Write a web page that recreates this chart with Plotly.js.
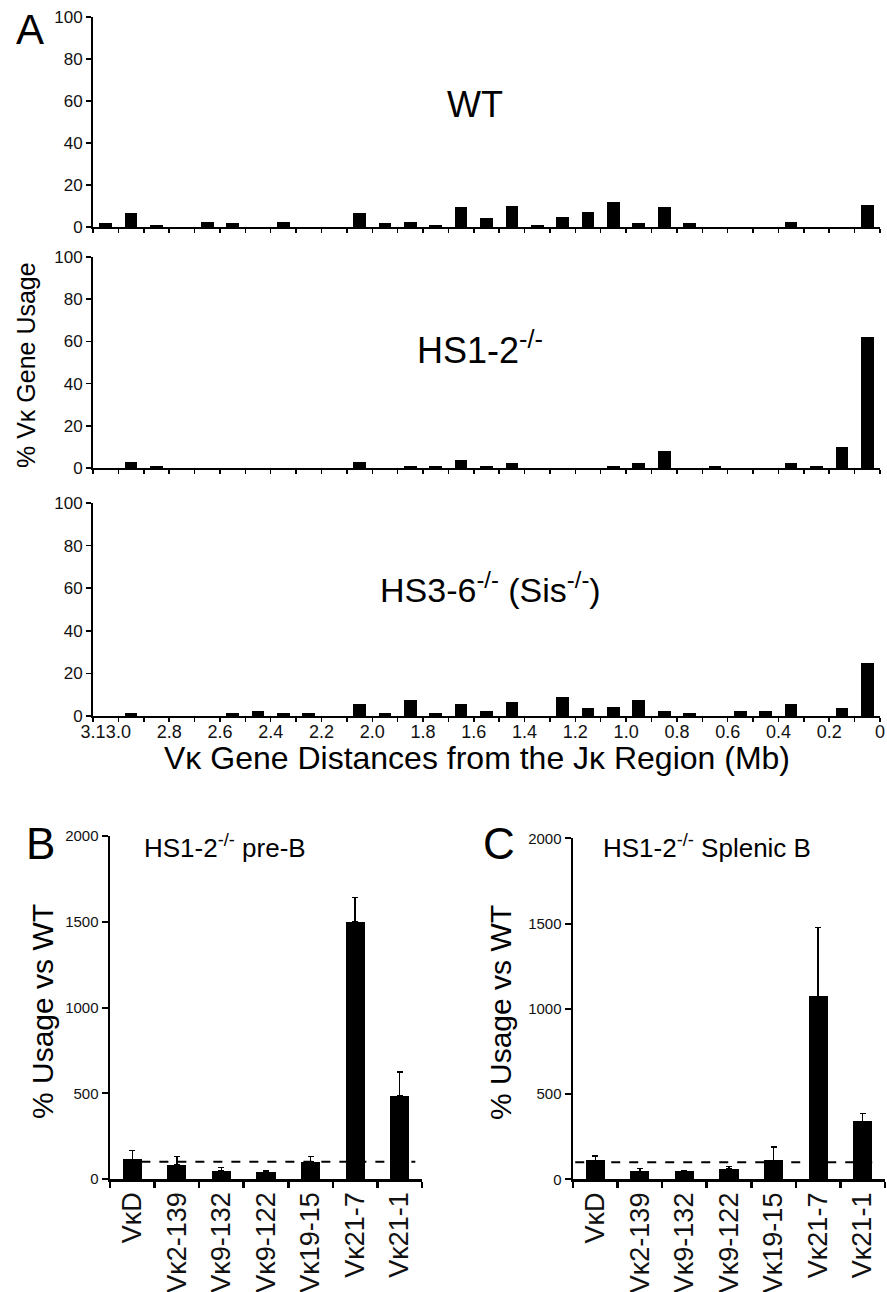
<!DOCTYPE html>
<html>
<head>
<meta charset="utf-8">
<script src="https://cdn.plot.ly/plotly-3.0.1.min.js"></script>
<style>html,body{margin:0;padding:0;background:#fff;}#chart{width:887px;height:1292px;}</style>
</head>
<body>
<div id="chart"></div>
<script>
// ---- Panel A data: Vκ gene usage (%) per 0.1 Mb bin (bin centers, Mb from Jκ) ----
const distanceBins = [3.05, 2.95, 2.85, 2.75, 2.65, 2.55, 2.45, 2.35, 2.25, 2.15,
                      2.05, 1.95, 1.85, 1.75, 1.65, 1.55, 1.45, 1.35, 1.25, 1.15,
                      1.05, 0.95, 0.85, 0.75, 0.65, 0.55, 0.45, 0.35, 0.25, 0.15, 0.05];
const wtUsage   = [1.7, 6.6, 0.8, 0, 2.5, 1.7, 0, 2.5, 0, 0,
                   6.6, 1.7, 2.5, 0.8, 9.3, 4.4, 9.9, 0.8, 5.0, 7.2,
                   12.0, 1.7, 9.3, 1.7, 0, 0, 0, 2.5, 0, 0, 10.7];
const hs12Usage = [0, 2.9, 0.8, 0, 0, 0, 0, 0, 0, 0,
                   2.9, 0, 0.8, 0.8, 3.7, 0.8, 2.4, 0, 0, 0,
                   0.8, 2.4, 8.0, 0, 0.8, 0, 0, 2.4, 0.8, 10.0, 62.0];
const hs36Usage = [0, 1.6, 0, 0, 0, 1.6, 2.4, 1.6, 1.6, 0,
                   5.7, 1.6, 7.7, 1.6, 5.7, 2.4, 6.4, 0, 9.1, 3.6,
                   4.4, 7.7, 2.4, 1.6, 0, 2.4, 2.4, 5.8, 0, 3.6, 25.0];
const distTickVals = [3.1, 3.0, 2.8, 2.6, 2.4, 2.2, 2.0, 1.8, 1.6, 1.4, 1.2, 1.0, 0.8, 0.6, 0.4, 0.2, 0];
const distTickText = ["3.1", "3.0", "2.8", "2.6", "2.4", "2.2", "2.0", "1.8", "1.6", "1.4",
                      "1.2", "1.0", "0.8", "0.6", "0.4", "0.2", "0"];
const distMinorTicks = [2.9, 2.7, 2.5, 2.3, 2.1, 1.9, 1.7, 1.5, 1.3, 1.1, 0.9, 0.7, 0.5, 0.3, 0.1];
const usageTicks = [0, 20, 40, 60, 80, 100];

// ---- Panels B and C: % usage vs WT ----
const geneLabels = ["VκD", "Vκ2-139", "Vκ9-132", "Vκ9-122", "Vκ19-15", "Vκ21-7", "Vκ21-1"];
const preBUsage  = [115, 82, 48, 39, 99, 1500, 484];
const preBError  = [50, 48, 18, 8, 31, 140, 140];
const splenicUsage = [111, 47, 47, 59, 111, 1073, 340];
const splenicError = [27, 15, 3, 15, 78, 403, 47];
const wtReference = 100;
const vsWtTicks = [0, 500, 1000, 1500, 2000];

const FONT = "Liberation Sans, Arial, sans-serif";
const zeros = a => a.map(() => 0);

function barA(y, xa, ya) {
  return {type: 'bar', x: distanceBins, y: y, xaxis: xa, yaxis: ya, width: 0.05,
          marker: {color: '#000', line: {width: 0}}, hoverinfo: 'x+y', showlegend: false};
}
function barBC(y, err, xa, ya) {
  return {type: 'bar', x: geneLabels, y: y, xaxis: xa, yaxis: ya, width: 0.43,
          marker: {color: '#000', line: {width: 0}}, showlegend: false,
          error_y: {type: 'data', symmetric: false, array: err, arrayminus: zeros(err),
                    color: '#000', thickness: 1.5, width: 3}};
}

const data = [
  barA(wtUsage, 'x', 'y'),
  barA(hs12Usage, 'x2', 'y2'),
  barA(hs36Usage, 'x3', 'y3'),
  barBC(preBUsage, preBError, 'x4', 'y4'),
  barBC(splenicUsage, splenicError, 'x5', 'y5')
];

const H = 1292, W = 887;
const py = p => 1 - p / H;
const px = p => p / W;

function xA(anchor, showLabels) {
  return {anchor: anchor, domain: [px(93), px(880)], range: [3.1, 0], autorange: false,
          tickmode: 'array', tickvals: distTickVals, ticktext: distTickText, tickangle: 0,
          showticklabels: showLabels, ticks: 'outside', ticklen: 4, tickwidth: 1.5, tickcolor: '#000',
          ticklabelstandoff: -6,
          minor: {tickmode: 'array', tickvals: distMinorTicks, ticks: 'outside', ticklen: 4,
                  tickwidth: 1.5, tickcolor: '#000', showgrid: false},
          showline: true, linecolor: '#000', linewidth: 2, showgrid: false, zeroline: false,
          tickfont: {family: FONT, size: 18, color: '#111'}, fixedrange: true};
}
function yA(anchor, bottom, top) {
  return {anchor: anchor, domain: [py(bottom), py(top)], range: [0, 100], autorange: false,
          tickmode: 'array', tickvals: usageTicks, ticks: 'outside', ticklen: 5, tickwidth: 1.5,
          tickcolor: '#000', showline: true, linecolor: '#000', linewidth: 2, showgrid: false,
          zeroline: false, tickfont: {family: FONT, size: 17, color: '#111'}, fixedrange: true};
}
function xBC(anchor, left, right) {
  return {anchor: anchor, domain: [px(left), px(right)], type: 'category', range: [-0.5, 6.5],
          autorange: false, tickson: 'boundaries', ticks: 'outside', ticklen: 6, tickwidth: 2.5,
          tickcolor: '#000', showline: true, linecolor: '#000', linewidth: 2.5, showgrid: false,
          tickangle: -90, tickfont: {family: FONT, size: 27, color: '#111'}, fixedrange: true};
}
function yBC(anchor, bottom, top) {
  return {anchor: anchor, domain: [py(bottom), py(top)], range: [0, 2000], autorange: false,
          tickmode: 'array', tickvals: vsWtTicks, ticks: 'outside', ticklen: 6, tickwidth: 2,
          tickcolor: '#000', showline: true, linecolor: '#000', linewidth: 2.5, showgrid: false,
          zeroline: false, tickfont: {family: FONT, size: 15, color: '#111'}, fixedrange: true};
}

function ann(text, x, y, size, extra) {
  return Object.assign({text: text, x: px(x), y: py(y), xref: 'paper', yref: 'paper',
          showarrow: false, xanchor: 'center', yanchor: 'middle',
          font: {family: FONT, size: size, color: '#000'}}, extra || {});
}

const layout = {
  width: W, height: H, margin: {l: 0, r: 0, t: 0, b: 0, autoexpand: false},
  paper_bgcolor: '#fff', plot_bgcolor: 'rgba(0,0,0,0)', bargap: 0, showlegend: false,
  xaxis: xA('y', false), yaxis: yA('x', 227, 17),
  xaxis2: xA('y2', false), yaxis2: yA('x2', 468, 257),
  xaxis3: xA('y3', true), yaxis3: yA('x3', 716, 503),
  xaxis4: xBC('y4', 110, 422), yaxis4: yBC('x4', 1179, 836),
  xaxis5: xBC('y5', 573, 885), yaxis5: yBC('x5', 1179.3, 838.3),
  shapes: [
    {type: 'line', xref: 'x4', yref: 'y4', x0: -0.2, x1: 6.35, y0: wtReference, y1: wtReference,
     layer: 'below', line: {color: '#000', width: 2, dash: 'dash'}},
    {type: 'line', xref: 'x5', yref: 'y5', x0: -0.45, x1: 6.3, y0: wtReference, y1: wtReference,
     layer: 'below', line: {color: '#000', width: 2, dash: 'dash'}}
  ],
  annotations: [
    ann('A', 30, 29, 42),
    ann('B', 40, 843, 44),
    ann('C', 499, 843, 44),
    ann('WT', 475, 104, 36),
    ann('HS1-2<sup>-/-</sup>', 480, 348, 36),
    ann('HS3-6<sup>-/-</sup> (Sis<sup>-/-</sup>)', 490, 588, 34),
    ann('Vκ Gene Distances from the Jκ Region (Mb)', 477, 758, 32),
    ann('% Vκ Gene Usage', 26, 365, 25, {textangle: -90}),
    ann('HS1-2<sup>-/-</sup> pre-B', 225, 846, 26),
    ann('HS1-2<sup>-/-</sup> Splenic B', 707, 846, 26),
    ann('% Usage vs WT', 42, 1012, 30, {textangle: -90}),
    ann('% Usage vs WT', 500, 1012, 30, {textangle: -90})
  ]
};

Plotly.newPlot('chart', data, layout, {displayModeBar: false, staticPlot: true});
</script>
</body>
</html>
